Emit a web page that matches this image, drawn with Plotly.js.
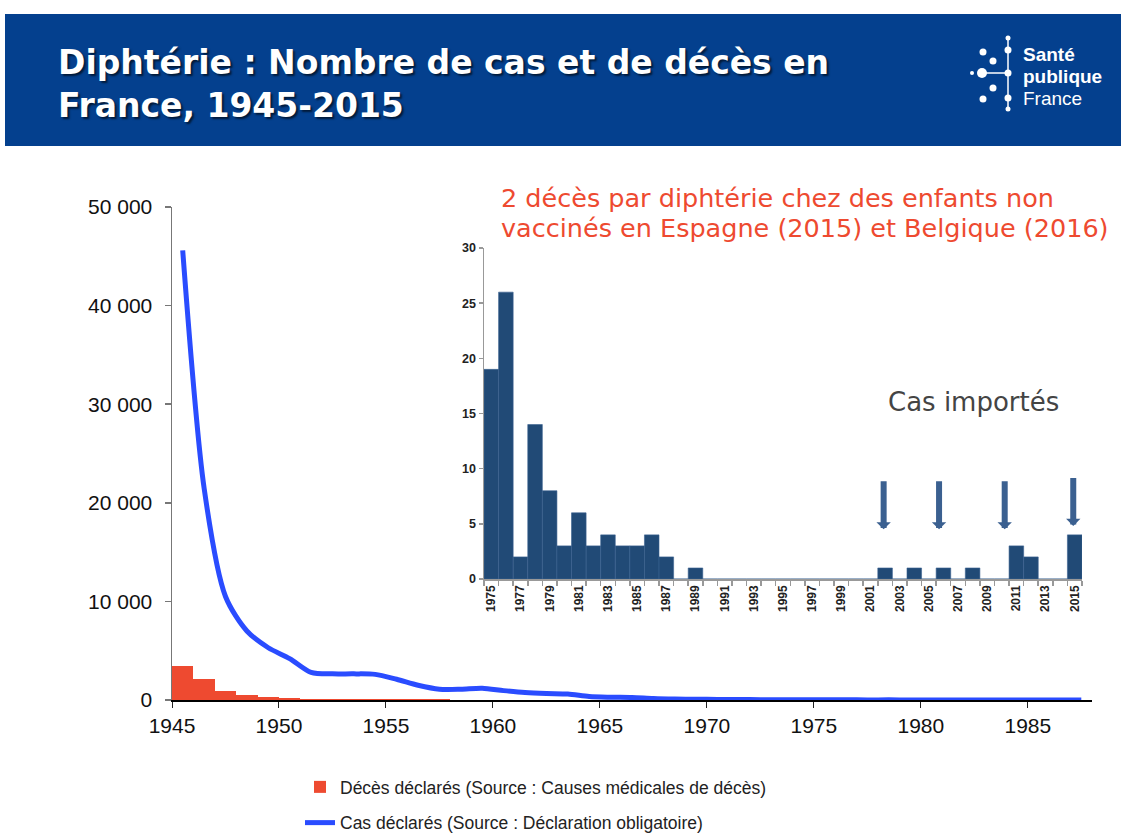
<!DOCTYPE html>
<html><head><meta charset="utf-8">
<script src="https://cdn.plot.ly/plotly-3.0.1.min.js"></script>
<style>html,body{margin:0;padding:0;background:#fff;overflow:hidden}#chart{width:1121px;height:836px}</style>
</head><body><div id="chart"></div>
<script>
// ---- Data ----
const casYears = [1945,1946,1947,1948,1949,1950,1951,1952,1953,1954,1955,1956,1957,1958,1959,1960,1961,1962,1963,1964,1965,1966,1967,1968,1969,1970,1971,1972,1973,1974,1975,1976,1977,1978,1979,1980,1981,1982,1983,1984,1985,1986,1987];
const casValues = [45600,21500,10500,7000,5300,4200,2800,2650,2650,2600,2100,1500,1100,1100,1200,950,750,650,600,350,280,250,150,100,80,60,45,35,28,22,19,26,2,14,8,3,6,3,4,3,3,4,2];
const decesYears = [1945,1946,1947,1948,1949,1950,1951,1952,1953,1954,1955,1956,1957,1958,1959,1960,1961,1962,1963,1964];
const decesValues = [3400,2100,930,520,340,200,150,130,110,100,90,70,60,50,45,40,35,30,25,20];
const insetYears = [1975,1976,1977,1978,1979,1980,1981,1982,1983,1984,1985,1986,1987,1988,1989,1990,1991,1992,1993,1994,1995,1996,1997,1998,1999,2000,2001,2002,2003,2004,2005,2006,2007,2008,2009,2010,2011,2012,2013,2014,2015];
const insetValues = [19,26,2,14,8,3,6,3,4,3,3,4,2,0,1,0,0,0,0,0,0,0,0,0,0,0,0,1,0,1,0,1,0,1,0,0,3,2,0,0,4];
const insetTickYears = [1975,1977,1979,1981,1983,1985,1987,1989,1991,1993,1995,1997,1999,2001,2003,2005,2007,2009,2011,2013,2015];
const importArrowYears = [2001.9, 2005.7, 2010.2, 2014.9];
const titleText = 'Diphtérie : Nombre de cas et de décès en<br>France, 1945-2015';
const noteLines = ['2 décès par diphtérie chez des enfants non', 'vaccinés en Espagne (2015) et Belgique (2016)'];

// ---- Helpers (pixel -> paper) ----
const W = 1121, H = 836;
const px = x => x / W;
const py = y => 1 - y / H;
const F = 'Liberation Sans, Arial, Helvetica, sans-serif';
const FW = 'DejaVu Sans, Verdana, sans-serif';

const traces = [
  {
    type: 'bar', name: 'Décès déclarés (Source : Causes médicales de décès)',
    x: decesYears, y: decesValues, offset: 0, width: 1,
    marker: {color: '#ee4a30', line: {width: 0}},
    xaxis: 'x', yaxis: 'y', legendgroup: 'a', hoverinfo: 'x+y'
  },
  {
    type: 'scatter', mode: 'lines', name: 'Cas déclarés (Source : Déclaration obligatoire)',
    x: casYears.map(v => v + 0.5), y: casValues,
    line: {color: '#2a4cff', width: 5, shape: 'spline', smoothing: 0.8},
    xaxis: 'x', yaxis: 'y', legendgroup: 'b'
  },
  {
    type: 'bar', name: 'Cas 1975-2015', showlegend: false,
    x: insetYears, y: insetValues, width: 1,
    marker: {color: '#214a76', line: {color: '#3a6290', width: 0.6}},
    xaxis: 'x2', yaxis: 'y2'
  }
];

const shapes = [
  {type: 'rect', xref: 'paper', yref: 'paper', x0: px(5), x1: 1, y0: py(146), y1: py(14),
   fillcolor: '#04408e', line: {width: 0}, layer: 'below'},
  {type: 'line', xref: 'paper', yref: 'paper', x0: px(1008), x1: px(1008), y0: py(40), y1: py(108), line: {color: '#fff', width: 1.5}},
  {type: 'line', xref: 'paper', yref: 'paper', x0: px(978), x1: px(1008), y0: py(73), y1: py(73), line: {color: '#fff', width: 1.5}},
];
const dots = [[1008,38,2.5],[1008,50,3.5],[1008,73,3.5],[1008,98,3.5],[1008,109,2.5],[983,52,3.5],[993,61,3.5],[982,73,5],[972,73,2],[993,88,3.5],[983,99,3.5]];
dots.forEach(d => shapes.push({type: 'circle', xref: 'paper', yref: 'paper',
  x0: px(d[0]-d[2]), x1: px(d[0]+d[2]), y0: py(d[1]+d[2]), y1: py(d[1]-d[2]),
  fillcolor: '#fff', line: {width: 0}}));

const annotations = [
  {xref: 'paper', yref: 'paper', x: px(56), y: py(84), xanchor: 'left', yanchor: 'middle', align: 'left',
   text: '<b>' + titleText + '</b>', showarrow: false,
   font: {family: FW, size: 33, color: '#ffffff', shadow: '2px 2px 2px rgba(0,0,0,0.6)'}},
  {xref: 'paper', yref: 'paper', x: px(1021), y: py(55), xanchor: 'left', yanchor: 'middle',
   text: '<b>Santé</b>', showarrow: false, font: {family: 'Liberation Sans Narrow, Arial Narrow, ' + F, size: 19, color: '#fff'}},
  {xref: 'paper', yref: 'paper', x: px(1021), y: py(76), xanchor: 'left', yanchor: 'middle',
   text: '<b>publique</b>', showarrow: false, font: {family: 'Liberation Sans Narrow, Arial Narrow, ' + F, size: 19, color: '#fff'}},
  {xref: 'paper', yref: 'paper', x: px(1021), y: py(98), xanchor: 'left', yanchor: 'middle',
   text: 'France', showarrow: false, font: {family: 'Liberation Sans Narrow, Arial Narrow, ' + F, size: 19, color: '#fff'}},
  {xref: 'paper', yref: 'paper', x: px(499), y: py(198), xanchor: 'left', yanchor: 'middle', align: 'left',
   text: noteLines[0], showarrow: false, font: {family: FW, size: 25.5, color: '#ee4a30'}},
  {xref: 'paper', yref: 'paper', x: px(499), y: py(228), xanchor: 'left', yanchor: 'middle', align: 'left',
   text: noteLines[1], showarrow: false, font: {family: FW, size: 25.5, color: '#ee4a30'}},
  {xref: 'paper', yref: 'paper', x: px(973), y: py(402), xanchor: 'center', yanchor: 'middle',
   text: 'Cas importés', showarrow: false, font: {family: FW, size: 26, color: '#444444'}},
];
importArrowYears.forEach((yr, i) => annotations.push({
  xref: 'x2', yref: 'y2', axref: 'x2', ayref: 'y2', x: yr, y: i === 3 ? 4.8 : 4.5, ax: yr, ay: i === 3 ? 9.3 : 9.0,
  text: '', showarrow: true, arrowhead: 1, arrowsize: 0.4, arrowwidth: 6, arrowcolor: '#3b6090'
}));

const layout = {
  width: W, height: H,
  margin: {l: 0, r: 0, t: 0, b: 0, autoexpand: false},
  paper_bgcolor: '#ffffff', plot_bgcolor: 'rgba(0,0,0,0)',
  separators: ', ',
  bargap: 0,
  showlegend: true,
  legend: {x: px(300), y: py(769), xanchor: 'left', yanchor: 'top', traceorder: 'grouped', tracegroupgap: 10,
           font: {family: F, size: 17.5, color: '#222'}, bgcolor: 'rgba(0,0,0,0)'},
  xaxis: {
    domain: [px(172), px(1092)], range: [1945, 1988], anchor: 'y',
    tickmode: 'linear', tick0: 1945, dtick: 5, ticks: 'outside', ticklen: 6, tickcolor: '#222', tickwidth: 1,
    showline: true, linecolor: '#000', linewidth: 2, showgrid: false, zeroline: false,
    tickfont: {family: F, size: 21, color: '#111'}
  },
  yaxis: {
    domain: [py(700), py(207)], range: [0, 50000], anchor: 'x',
    tickmode: 'linear', tick0: 0, dtick: 10000, tickformat: ',d', ticks: 'outside', ticklen: 6, tickcolor: '#777', tickwidth: 1.5,
    showline: true, linecolor: '#777', linewidth: 1.5, showgrid: false, zeroline: false,
    ticklabelstandoff: 8,
    tickfont: {family: F, size: 21, color: '#111'}
  },
  xaxis2: {
    domain: [px(484), px(1082)], range: [1974.5, 2015.5], anchor: 'y2',
    tickmode: 'array', tickvals: insetTickYears, ticktext: insetTickYears.map(String), ticks: '', tickangle: -90,
    minor: {ticks: 'outside', tick0: 1974.5, dtick: 1, ticklen: 5, tickcolor: '#999', tickwidth: 1.5},
    showline: true, linecolor: '#999', linewidth: 1.5, showgrid: false, zeroline: false,
    tickfont: {family: F, size: 12, color: '#222', weight: 'bold'}
  },
  yaxis2: {
    domain: [py(579), py(248)], range: [0, 30], anchor: 'x2',
    tickmode: 'linear', tick0: 0, dtick: 5, ticks: 'outside', ticklen: 4, tickcolor: '#999', tickwidth: 1.5,
    showline: true, linecolor: '#999', linewidth: 1.5, showgrid: false, zeroline: false,
    tickfont: {family: F, size: 12.5, color: '#222', weight: 'bold'}
  },
  shapes: shapes,
  annotations: annotations
};

Plotly.newPlot('chart', traces, layout, {displayModeBar: false, staticPlot: true});
</script>
</body></html>
